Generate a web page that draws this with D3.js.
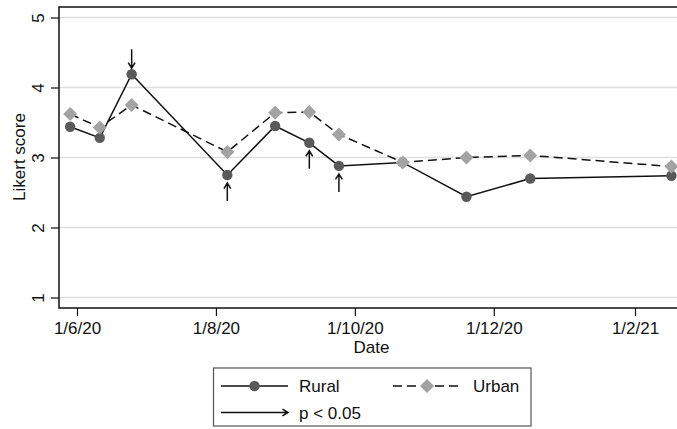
<!DOCTYPE html>
<html><head><meta charset="utf-8">
<script src="https://cdn.jsdelivr.net/npm/d3@7"></script>
<style>html,body{margin:0;padding:0;background:#fff;}svg{display:block;font-family:"Liberation Sans",Arial,Helvetica,sans-serif;}</style>
</head><body>
<script>
const dates = ["2020-05-29","2020-06-11","2020-06-25","2020-08-06","2020-08-27","2020-09-11","2020-09-24","2020-10-22","2020-11-19","2020-12-17","2021-02-17"];
const rural = [3.44,3.28,4.19,2.75,3.45,3.21,2.88,2.93,2.44,2.70,2.74];
const urban = [3.62,3.43,3.75,3.08,3.64,3.65,3.33,2.93,3.00,3.03,2.87];
const significant = [0,0,1,1,0,1,1,0,0,0,0];
const xTicks = ["2020-06-01","2020-08-01","2020-10-01","2020-12-01","2021-02-01"];
const xTickLabels = ["1/6/20","1/8/20","1/10/20","1/12/20","1/2/21"];
const yTicks = [1,2,3,4,5];

const W = 677, H = 429;
const parse = d3.timeParse("%Y-%m-%d");
const svg = d3.select("body").append("svg").attr("width", W).attr("height", H);

const x = d3.scaleTime().domain([parse("2020-06-01"), parse("2021-02-01")]).range([77, 635]);
const y = d3.scaleLinear().domain([1, 5]).range([297.5, 17.5]);
const pLeft = 59, pTop = 7, pBottom = 308, pRight = 700;

// gridlines
svg.append("g").selectAll("line").data(yTicks).join("line")
  .attr("x1", pLeft).attr("x2", pRight).attr("y1", d => y(d)).attr("y2", d => y(d))
  .attr("stroke", "#dedede").attr("stroke-width", 1.3);

// frame
svg.append("rect").attr("x", pLeft).attr("y", pTop).attr("width", pRight - pLeft).attr("height", pBottom - pTop)
  .attr("fill", "none").attr("stroke", "#111").attr("stroke-width", 1.5);

// y axis
const yAxis = d3.axisLeft(y).tickValues(yTicks).tickSize(8).tickFormat(d3.format("d"));
const gy = svg.append("g").attr("transform", `translate(${pLeft},0)`).call(yAxis);
gy.select(".domain").remove();
gy.selectAll(".tick line").attr("stroke", "#111").attr("stroke-width", 1.2);
gy.selectAll(".tick text").attr("font-size", 17).attr("fill", "#111")
  .attr("text-anchor", "middle").attr("x", null).attr("dy", null).attr("y", null)
  .attr("transform", "translate(-15,0) rotate(-90)");

// x axis
const xAxis = d3.axisBottom(x).tickValues(xTicks.map(parse)).tickSize(8)
  .tickFormat((d, i) => xTickLabels[i]);
const gx = svg.append("g").attr("transform", `translate(0,${pBottom})`).call(xAxis);
gx.select(".domain").remove();
gx.selectAll(".tick line").attr("stroke", "#111").attr("stroke-width", 1.2);
gx.selectAll(".tick text").attr("font-size", 17).attr("fill", "#111").attr("y", 25.5).attr("dy", null);

// axis titles
svg.append("text").attr("x", 371.5).attr("y", 353).attr("text-anchor", "middle")
  .attr("font-size", 17).attr("fill", "#111").text("Date");
svg.append("text").attr("transform", "translate(25,157) rotate(-90)").attr("text-anchor", "middle")
  .attr("font-size", 17).attr("fill", "#111").text("Likert score");

const ruralPts = dates.map((d, i) => ({ date: parse(d), v: rural[i], u: urban[i], sig: significant[i] }));
const urbanPts = dates.map((d, i) => ({ date: parse(d), v: urban[i] }));
const line = d3.line().x(d => x(d.date)).y(d => y(d.v));

// urban
svg.append("path").datum(urbanPts).attr("d", line).attr("fill", "none")
  .attr("stroke", "#111").attr("stroke-width", 1.5).attr("stroke-dasharray", "9,5");
// rural
svg.append("path").datum(ruralPts).attr("d", line).attr("fill", "none")
  .attr("stroke", "#111").attr("stroke-width", 1.5);

const diamond = (cx, cy, r) => `M${cx},${cy - r}L${cx + r},${cy}L${cx},${cy + r}L${cx - r},${cy}Z`;

svg.append("g").selectAll("circle").data(ruralPts).join("circle")
  .attr("cx", d => x(d.date)).attr("cy", d => y(d.v)).attr("r", 5.2).attr("fill", "#5a5a5a");
svg.append("g").selectAll("path").data(urbanPts).join("path")
  .attr("d", d => diamond(x(d.date), y(d.v), 7)).attr("fill", "#a3a3a3");

// significance arrows
function arrowPath(x0, y0, x1, y1) {
  const ang = Math.atan2(y1 - y0, x1 - x0), L = 6.5, a = 0.55;
  const p1 = [x1 - L * Math.cos(ang - a), y1 - L * Math.sin(ang - a)];
  const p2 = [x1 - L * Math.cos(ang + a), y1 - L * Math.sin(ang + a)];
  return `M${x0},${y0}L${x1},${y1}M${p1[0]},${p1[1]}L${x1},${y1}L${p2[0]},${p2[1]}`;
}
svg.append("g").selectAll("path").data(ruralPts.filter(d => d.sig)).join("path")
  .attr("d", d => {
    const cx = x(d.date), cy = y(d.v);
    return d.v > d.u ? arrowPath(cx, cy - 25, cx, cy - 6) : arrowPath(cx, cy + 26, cx, cy + 8);
  })
  .attr("fill", "none").attr("stroke", "#111").attr("stroke-width", 1.5);

// legend
const lg = svg.append("g");
lg.append("rect").attr("x", 213.5).attr("y", 368).attr("width", 317.5).attr("height", 58)
  .attr("fill", "#fff").attr("stroke", "#555").attr("stroke-width", 1.2);
lg.append("line").attr("x1", 221).attr("x2", 288).attr("y1", 386).attr("y2", 386).attr("stroke", "#111").attr("stroke-width", 1.5);
lg.append("circle").attr("cx", 254.5).attr("cy", 386).attr("r", 5.2).attr("fill", "#5a5a5a");
lg.append("text").attr("x", 299).attr("y", 392).attr("font-size", 17).attr("fill", "#111").text("Rural");
lg.append("line").attr("x1", 393).attr("x2", 462).attr("y1", 386).attr("y2", 386).attr("stroke", "#111")
  .attr("stroke-width", 1.5).attr("stroke-dasharray", "9,5");
lg.append("path").attr("d", diamond(427, 386, 7)).attr("fill", "#a3a3a3");
lg.append("text").attr("x", 473).attr("y", 392).attr("font-size", 17).attr("fill", "#111").text("Urban");
lg.append("path").attr("d", arrowPath(221, 412.5, 288, 412.5)).attr("fill", "none").attr("stroke", "#111").attr("stroke-width", 1.5);
lg.append("text").attr("x", 299).attr("y", 419).attr("font-size", 17).attr("fill", "#111").text("p < 0.05");
</script>
</body></html>
